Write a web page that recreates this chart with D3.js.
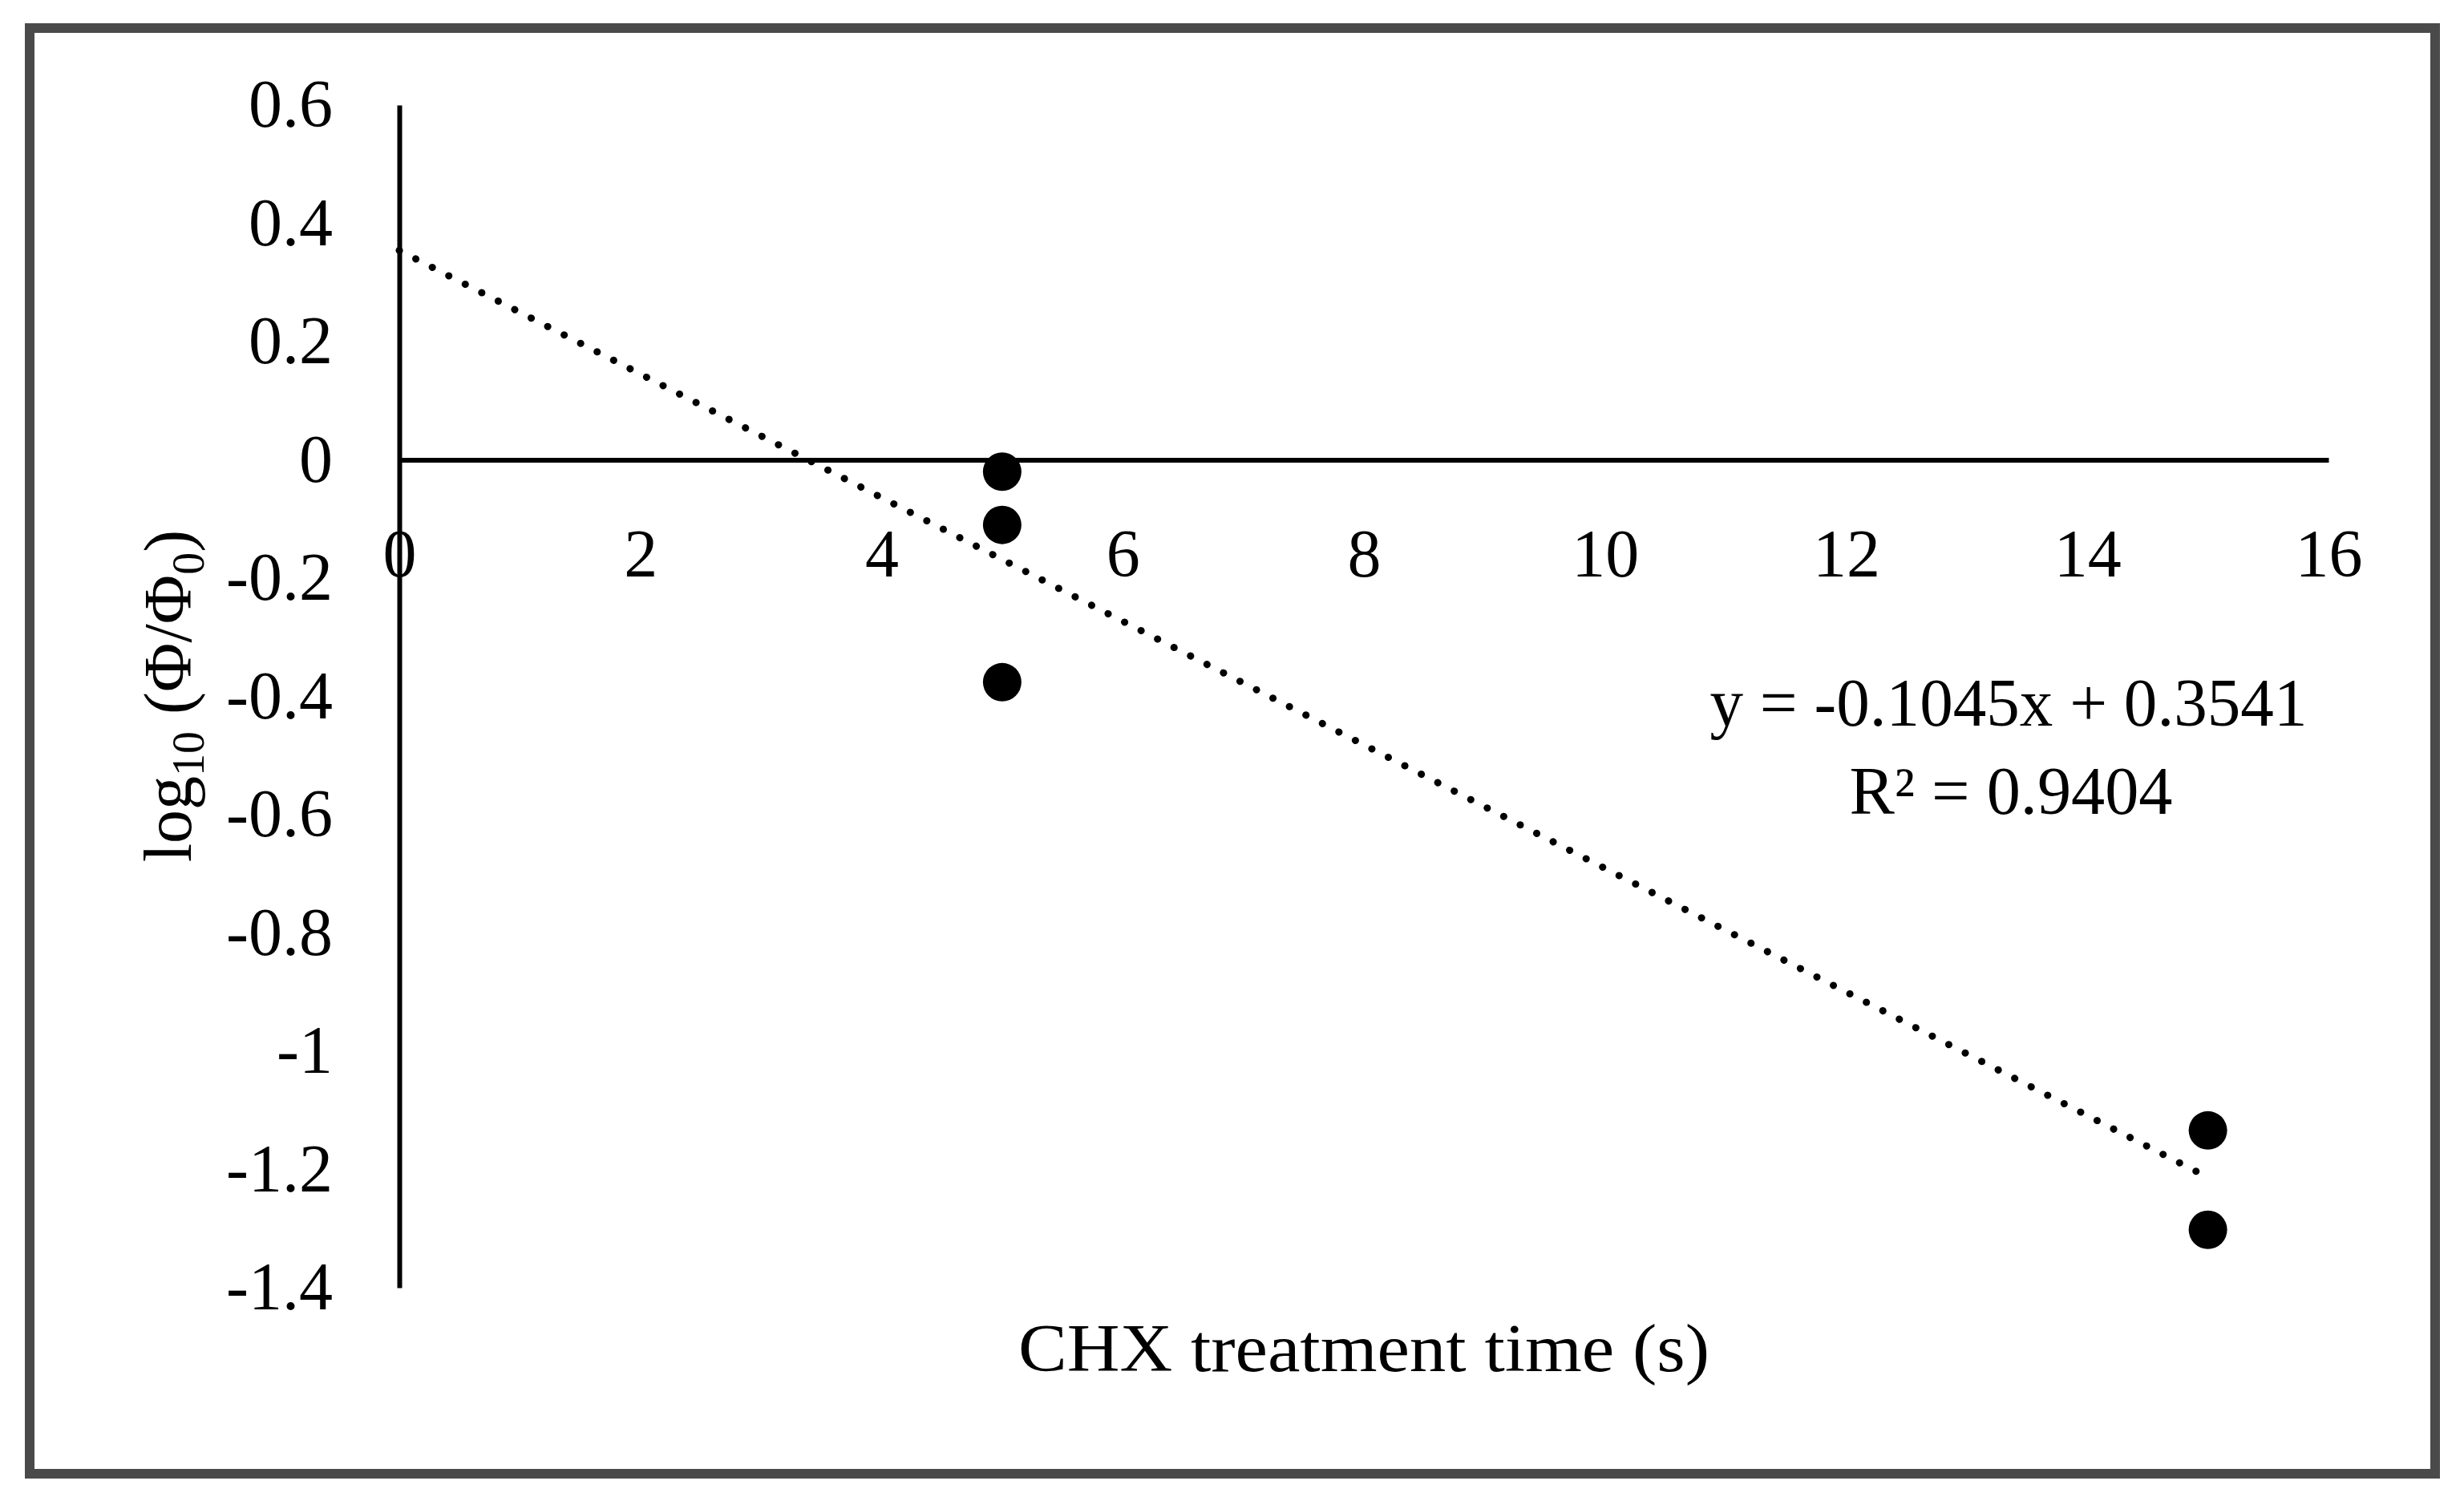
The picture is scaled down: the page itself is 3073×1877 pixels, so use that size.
<!DOCTYPE html>
<html>
<head>
<meta charset="utf-8">
<script src="https://cdn.jsdelivr.net/npm/d3@7"></script>
<style>
  body { margin: 0; background: #fff; }
  svg text { font-family: "Palatino Linotype", "Book Antiqua", Palatino, "Liberation Serif", serif; fill: #000; }
</style>
</head>
<body>
<div class="chart"></div>
<script>
// data
const times = [5, 5, 5, 15, 15];
const logRatio = [-0.02, -0.11, -0.376, -1.134, -1.302];
const xTicks = [0, 2, 4, 6, 8, 10, 12, 14, 16];
const yTicks = [0.6, 0.4, 0.2, 0, -0.2, -0.4, -0.6, -0.8, -1, -1.2, -1.4];
const slope = -0.1045;
const intercept = 0.3541;
const rSquared = 0.9404;
const trendRange = [0, 15];

const width = 3073;
const height = 1877;
const fontSize = 84;

const svg = d3.select(".chart")
  .append("svg")
  .attr("width", width)
  .attr("height", height);

// frame
svg.append("rect")
  .attr("x", 37)
  .attr("y", 35)
  .attr("width", 3000)
  .attr("height", 1803)
  .attr("fill", "none")
  .attr("stroke", "#4a4a4a")
  .attr("stroke-width", 12);

const x = d3.scaleLinear().domain([0, 16]).range([498, 2904]);
const y = d3.scaleLinear().domain([-1.4, 0.6]).range([1606, 131]);

const fmt = d => String(+d.toFixed(1));

const xAxis = d3.axisBottom(x).tickValues(xTicks).tickFormat(fmt)
  .tickSize(0).tickPadding(86);
const yAxis = d3.axisLeft(y).tickValues(yTicks).tickFormat(fmt)
  .tickSize(0).tickPadding(83);

const gx = svg.append("g")
  .attr("transform", `translate(0,${y(0)})`)
  .call(xAxis);
const gy = svg.append("g")
  .attr("transform", `translate(${x(0)},0)`)
  .call(yAxis);

[gx, gy].forEach(g => {
  g.attr("font-family", null);
  g.select(".domain").attr("stroke", "#000").attr("stroke-width", 6);
  g.selectAll("text").attr("font-size", fontSize).attr("fill", "#000");
});

// trendline
const trend = trendRange.map(t => [t, slope * t + intercept]);
svg.append("path")
  .attr("d", d3.line().x(d => x(d[0])).y(d => y(d[1]))(trend))
  .attr("fill", "none")
  .attr("stroke", "#000")
  .attr("stroke-width", 9)
  .attr("stroke-linecap", "round")
  .attr("stroke-dasharray", "0.1 23");

// points
svg.selectAll(".dot")
  .data(times.map((t, i) => [t, logRatio[i]]))
  .enter()
  .append("circle")
  .attr("class", "dot")
  .attr("cx", d => x(d[0]))
  .attr("cy", d => y(d[1]))
  .attr("r", 24)
  .attr("fill", "#000");

// axis titles
svg.append("text")
  .attr("x", 1701)
  .attr("y", 1710)
  .attr("text-anchor", "middle")
  .attr("font-size", fontSize)
  .attr("textLength", 862)
  .attr("lengthAdjust", "spacingAndGlyphs")
  .text("CHX treatment time (s)");

const yTitle = svg.append("text")
  .attr("transform", "translate(238,868) rotate(-90)")
  .attr("text-anchor", "middle")
  .attr("font-size", fontSize);
yTitle.append("tspan").text("log");
yTitle.append("tspan").attr("font-size", 56).attr("dy", 16).text("10");
yTitle.append("tspan").attr("dy", -16).text(" (Φ/Φ");
yTitle.append("tspan").attr("font-size", 56).attr("dy", 16).text("0");
yTitle.append("tspan").attr("dy", -16).text(")");

// equation
svg.append("text")
  .attr("x", 2505)
  .attr("y", 905)
  .attr("text-anchor", "middle")
  .attr("font-size", fontSize)
  .attr("textLength", 745)
  .attr("lengthAdjust", "spacingAndGlyphs")
  .text(`y = ${slope}x + ${intercept}`);

svg.append("text")
  .attr("x", 2508)
  .attr("y", 1015)
  .attr("text-anchor", "middle")
  .attr("font-size", fontSize)
  .attr("textLength", 403)
  .attr("lengthAdjust", "spacingAndGlyphs")
  .text(`R² = ${rSquared}`);
</script>
</body>
</html>
